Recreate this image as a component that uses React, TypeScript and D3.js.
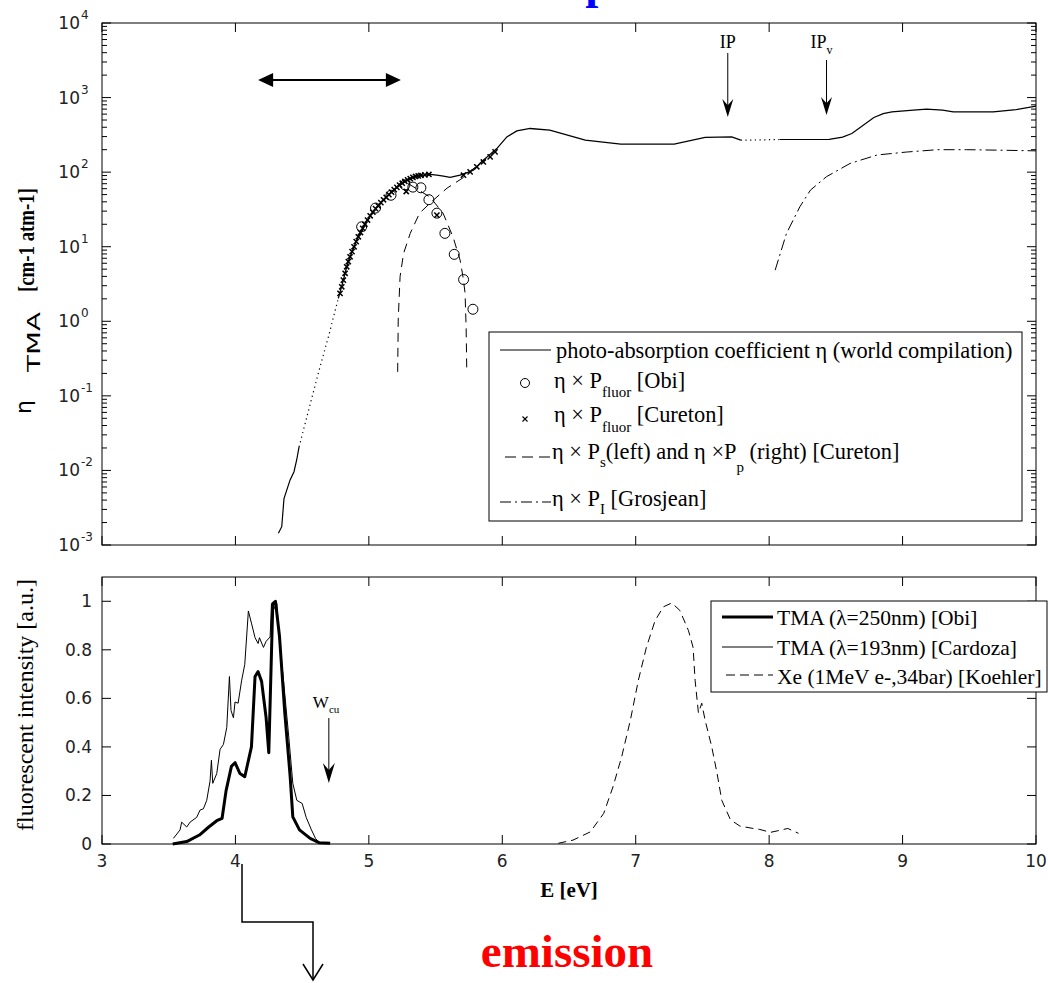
import React from "react";
import * as d3 from "d3";

// ---------- data: top panel (E [eV], cm-1 atm-1) ----------
// photo-absorption coefficient η (world compilation); split into solid and dotted stretches
const absSolidLow: [number, number][] = [
  [4.322, 0.00144], [4.347, 0.00176], [4.364, 0.0042], [4.409, 0.0074],
  [4.439, 0.0096], [4.459, 0.0138], [4.477, 0.0207],
];
const absDottedLow: [number, number][] = [
  [4.477, 0.0207], [4.572, 0.093], [4.634, 0.245], [4.697, 0.62], [4.771, 2.03],
];
const absSolidMid: [number, number][] = [
  [4.771, 2.03], [4.809, 3.56], [4.834, 5.38], [4.859, 7.33], [4.889, 9.98],
  [4.921, 13.6], [4.954, 17.6], [4.989, 22.7], [5.022, 27.9], [5.059, 33.6],
  [5.097, 40], [5.134, 46.7], [5.172, 54.5], [5.209, 62.4], [5.247, 70.5],
  [5.284, 78.1], [5.322, 83.9], [5.359, 88.4], [5.409, 91.2], [5.459, 93.1],
  [5.509, 91.2], [5.559, 88.4], [5.609, 85], [5.684, 91], [5.783, 106],
  [5.858, 145], [5.959, 207], [6.034, 297], [6.109, 358], [6.209, 385],
  [6.356, 366], [6.622, 268], [6.888, 237], [7.288, 237], [7.52, 292],
  [7.72, 297], [7.787, 268],
];
const absDottedHigh: [number, number][] = [
  [7.787, 268], [7.81, 268], [8.08, 274],
];
const absSolidHigh: [number, number][] = [
  [8.08, 274], [8.45, 275], [8.55, 295], [8.62, 330], [8.70, 420],
  [8.785, 540], [8.855, 610], [8.92, 643], [9.08, 680], [9.18, 700],
  [9.30, 680], [9.38, 643], [9.68, 643], [9.85, 690], [10.0, 767],
];

// η × P_fluor [Obi]
const obiFluor: [number, number][] = [
  [4.946, 18.5], [5.05, 33], [5.166, 49], [5.27, 67.6], [5.33, 63],
  [5.39, 61.7], [5.45, 42.7], [5.51, 28.2], [5.57, 15.1], [5.64, 7.9],
  [5.71, 3.63], [5.78, 1.45],
];

// η × P_fluor [Cureton]
const curetonFluor: [number, number][] = [
  [4.784, 2.37], [4.797, 2.9], [4.809, 3.56], [4.822, 4.4], [4.834, 5.38],
  [4.846, 6.3], [4.859, 7.33], [4.874, 8.6], [4.889, 9.98], [4.905, 11.7],
  [4.921, 13.6], [4.937, 15.5], [4.954, 17.6], [4.97, 20], [4.99, 22.8],
  [5.01, 26], [5.03, 29], [5.05, 32.4], [5.07, 35.4], [5.09, 39],
  [5.11, 42.6], [5.13, 46], [5.15, 50], [5.17, 54], [5.19, 58.4],
  [5.21, 62.5], [5.23, 67], [5.25, 71], [5.27, 75], [5.29, 79],
  [5.31, 82], [5.33, 85], [5.35, 87.5], [5.37, 89], [5.39, 90.5],
  [5.42, 92], [5.45, 93], [5.28, 55], [5.51, 26.5],
  [5.709, 91], [5.759, 101], [5.809, 118], [5.858, 137], [5.909, 160],
  [5.946, 187],
];

// η × P_s (left) and η × P_p (right) [Cureton]
const curetonPs: [number, number][] = [
  [5.13, 46], [5.256, 77.6], [5.459, 46.2], [5.556, 28.2], [5.631, 13.5],
  [5.684, 6.6], [5.706, 3.9], [5.721, 2.4], [5.729, 0.83], [5.734, 0.21],
];
const curetonPp: [number, number][] = [
  [5.216, 0.21], [5.22, 1.04], [5.234, 3.98], [5.26, 8.1], [5.31, 15.1],
  [5.38, 28.2], [5.48, 41.7], [5.586, 61], [5.71, 85], [5.83, 132], [5.96, 195],
];

// η × P_I [Grosjean]
const grosjeanPI: [number, number][] = [
  [8.045, 4.85], [8.13, 15.1], [8.23, 34.3], [8.31, 57.5], [8.43, 87],
  [8.607, 131], [8.81, 170], [9.03, 186], [9.26, 200], [9.48, 200],
  [9.73, 197], [10.0, 193],
];

// ---------- data: bottom panel (E [eV], fluorescent intensity [a.u.]) ----------
const tmaObi: [number, number][] = [
  [3.53, 0], [3.635, 0.01], [3.73, 0.037], [3.80, 0.07], [3.86, 0.096],
  [3.90, 0.106], [3.93, 0.22], [3.97, 0.32], [3.997, 0.335], [4.034, 0.29],
  [4.07, 0.277], [4.12, 0.40], [4.147, 0.69], [4.17, 0.71], [4.196, 0.67],
  [4.23, 0.52], [4.25, 0.376], [4.28, 0.99], [4.30, 1.0], [4.33, 0.857],
  [4.37, 0.54], [4.41, 0.28], [4.43, 0.112], [4.48, 0.058], [4.56, 0.023],
  [4.63, 0.005], [4.71, 0.003],
];
const tmaCardoza: [number, number][] = [
  [3.535, 0.023], [3.585, 0.058], [3.597, 0.09], [3.635, 0.07], [3.66, 0.09],
  [3.71, 0.11], [3.735, 0.14], [3.76, 0.145], [3.785, 0.18], [3.81, 0.26],
  [3.82, 0.345], [3.83, 0.25], [3.86, 0.29], [3.885, 0.39], [3.91, 0.41],
  [3.935, 0.48], [3.955, 0.69], [3.967, 0.55], [3.985, 0.52], [3.997, 0.585],
  [4.02, 0.58], [4.047, 0.675], [4.07, 0.74], [4.097, 0.96], [4.12, 0.91],
  [4.147, 0.85], [4.17, 0.826], [4.18, 0.85], [4.21, 0.81], [4.23, 0.835],
  [4.26, 0.853], [4.27, 0.99], [4.28, 0.96], [4.31, 0.99], [4.33, 0.84],
  [4.36, 0.675], [4.40, 0.44], [4.43, 0.25], [4.46, 0.18], [4.50, 0.167],
  [4.53, 0.11], [4.57, 0.058], [4.60, 0.023], [4.63, 0.005],
];
const xeKoehler: [number, number][] = [
  [6.42, 0.003], [6.53, 0.016], [6.66, 0.05], [6.76, 0.126], [6.83, 0.236],
  [6.895, 0.36], [6.96, 0.51], [7.02, 0.675], [7.08, 0.81], [7.145, 0.92],
  [7.207, 0.977], [7.27, 0.993], [7.33, 0.963], [7.395, 0.88], [7.43, 0.81],
  [7.445, 0.675], [7.47, 0.54], [7.495, 0.58], [7.52, 0.51], [7.57, 0.40],
  [7.61, 0.29], [7.645, 0.18], [7.71, 0.1], [7.78, 0.074], [7.88, 0.064],
  [7.93, 0.06], [8.01, 0.048], [8.06, 0.054], [8.14, 0.064], [8.22, 0.044],
];

// ---------- axes ----------
const eDomain: [number, number] = [3, 10];
const eTicks = [3, 4, 5, 6, 7, 8, 9, 10];
const etaDomain: [number, number] = [1e-3, 1e4];
const etaExponents = [-3, -2, -1, 0, 1, 2, 3, 4];
const intensityDomain: [number, number] = [0, 1.1];
const intensityTicks = [0, 0.2, 0.4, 0.6, 0.8, 1];

// annotation energies
const ipEnergy = 7.69;
const ipvEnergy = 8.43;
const wcuEnergy = 4.7;
const rangeArrow: [number, number] = [4.17, 5.24];

const SERIF = "'Liberation Serif', 'Times New Roman', serif";
const SANS = "'DejaVu Sans', Arial, sans-serif";

const L = 102, R = 1036;
const T1 = 23, B1 = 545;
const T2 = 577, B2 = 844;
const TICK = 9, MINOR = 5;

const x = d3.scaleLinear().domain(eDomain).range([L, R]);
const yTop = d3.scaleLog().domain(etaDomain).range([B1, T1]);
const yBot = d3.scaleLinear().domain(intensityDomain).range([B2, T2]);

const lineTop = d3.line<[number, number]>().x((d) => x(d[0])).y((d) => yTop(d[1]));
const lineBot = d3.line<[number, number]>().x((d) => x(d[0])).y((d) => yBot(d[1]));

function barbArrowDown(cx: number, tipY: number, len = 18, half = 5.5) {
  return `M${cx},${tipY} L${cx - half},${tipY - len} L${cx},${tipY - len * 0.65} L${cx + half},${tipY - len} Z`;
}

function Cross({ cx, cy, s = 3, w = 1.1 }: { cx: number; cy: number; s?: number; w?: number }) {
  return (
    <path
      d={`M${cx - s},${cy - s}L${cx + s},${cy + s}M${cx - s},${cy + s}L${cx + s},${cy - s}`}
      stroke="#000"
      strokeWidth={w}
      fill="none"
    />
  );
}

export default function App() {
  const minorTop: number[] = [];
  for (let d = -3; d < 4; d++) for (let m = 2; m <= 9; m++) minorTop.push(m * Math.pow(10, d));

  const dashTop = "9,6";
  const dashDot = "11,4,2,4";
  const dotted = "1.2,3.5";

  return (
    <svg
      width={1048}
      height={983}
      style={{ position: "absolute", left: 0, top: 0, background: "#fff" }}
      xmlns="http://www.w3.org/2000/svg"
    >
      <rect x={0} y={0} width={1048} height={983} fill="#fff" />

      {/* title word, mostly above the canvas */}
      <text x={473} y={-2} fontFamily={SERIF} fontWeight="bold" fontSize={47} fill="#0000ff">
        absorption
      </text>

      {/* ================= top panel ================= */}
      <g>
        {eTicks.map((t) => (
          <g key={"tx" + t} stroke="#000" strokeWidth={1}>
            <line x1={x(t)} x2={x(t)} y1={B1} y2={B1 - TICK} />
            <line x1={x(t)} x2={x(t)} y1={T1} y2={T1 + TICK} />
          </g>
        ))}
        {etaExponents.map((e) => {
          const yy = yTop(Math.pow(10, e));
          return (
            <g key={"ty" + e} stroke="#000" strokeWidth={1}>
              <line x1={L} x2={L + TICK} y1={yy} y2={yy} />
              <line x1={R} x2={R - TICK} y1={yy} y2={yy} />
            </g>
          );
        })}
        {minorTop.map((v, i) => {
          const yy = yTop(v);
          return (
            <g key={"tm" + i} stroke="#000" strokeWidth={1}>
              <line x1={L} x2={L + MINOR} y1={yy} y2={yy} />
              <line x1={R} x2={R - MINOR} y1={yy} y2={yy} />
            </g>
          );
        })}
        {etaExponents.map((e) => {
          const yy = yTop(Math.pow(10, e));
          return (
            <g key={"ly" + e} fontFamily={SANS} fill="#222">
              <text x={80} y={yy + 6} fontSize={17} textAnchor="end">10</text>
              <text x={81} y={yy - 4} fontSize={12}>{e}</text>
            </g>
          );
        })}

        {/* curves */}
        <path d={lineTop(absSolidLow)!} fill="none" stroke="#000" strokeWidth={1.2} />
        <path d={lineTop(absDottedLow)!} fill="none" stroke="#000" strokeWidth={1.2} strokeDasharray={dotted} />
        <path d={lineTop(absSolidMid)!} fill="none" stroke="#000" strokeWidth={1.3} />
        <path d={lineTop(absDottedHigh)!} fill="none" stroke="#000" strokeWidth={1.2} strokeDasharray={dotted} />
        <path d={lineTop(absSolidHigh)!} fill="none" stroke="#000" strokeWidth={1.2} />

        <path d={lineTop(curetonPs)!} fill="none" stroke="#000" strokeWidth={1} strokeDasharray={dashTop} />
        <path d={lineTop(curetonPp)!} fill="none" stroke="#000" strokeWidth={1} strokeDasharray={dashTop} />
        <path d={lineTop(grosjeanPI)!} fill="none" stroke="#000" strokeWidth={1} strokeDasharray={dashDot} />

        {curetonFluor.map((d, i) => (
          <Cross key={"cx" + i} cx={x(d[0])} cy={yTop(d[1])} s={2.6} w={1.5} />
        ))}
        {obiFluor.map((d, i) => (
          <circle key={"ob" + i} cx={x(d[0])} cy={yTop(d[1])} r={5} fill="none" stroke="#000" strokeWidth={1} />
        ))}

        {/* range arrow */}
        <g fill="#000" stroke="#000">
          <line x1={x(rangeArrow[0]) + 10} x2={x(rangeArrow[1]) - 10} y1={80} y2={80} strokeWidth={2} />
          <path d={`M${x(rangeArrow[0])},80 L${x(rangeArrow[0]) + 15},73 L${x(rangeArrow[0]) + 15},87 Z`} stroke="none" />
          <path d={`M${x(rangeArrow[1])},80 L${x(rangeArrow[1]) - 15},73 L${x(rangeArrow[1]) - 15},87 Z`} stroke="none" />
        </g>

        {/* IP, IPv markers */}
        <g>
          <text x={x(ipEnergy)} y={48} fontFamily={SERIF} fontSize={18} textAnchor="middle">IP</text>
          <line x1={x(ipEnergy)} x2={x(ipEnergy)} y1={53} y2={108} stroke="#000" strokeWidth={1} />
          <path d={barbArrowDown(x(ipEnergy), 117)} fill="#000" />
          <text x={x(ipvEnergy) - 16} y={48} fontFamily={SERIF} fontSize={18}>
            IP<tspan fontSize={12} dy={6}>v</tspan>
          </text>
          <line x1={x(ipvEnergy)} x2={x(ipvEnergy)} y1={60} y2={106} stroke="#000" strokeWidth={1} />
          <path d={barbArrowDown(x(ipvEnergy), 115)} fill="#000" />
        </g>

        <rect x={L} y={T1} width={R - L} height={B1 - T1} fill="none" stroke="#000" strokeWidth={1} />

        {/* legend */}
        <g fontFamily={SERIF} fontSize={22.4} fill="#000">
          <rect x={489} y={332} width={533} height={189} fill="#fff" stroke="#000" strokeWidth={1} />
          <line x1={500} x2={551} y1={350} y2={350} stroke="#000" strokeWidth={1} />
          <text x={556} y={358}>photo-absorption coefficient η  (world compilation)</text>

          <circle cx={525} cy={383} r={4.5} fill="none" stroke="#000" strokeWidth={1} />
          <text x={554} y={388}>
            η × P<tspan fontSize={15} dy={9}>fluor</tspan><tspan dy={-9}> [Obi]</tspan>
          </text>

          <Cross cx={525} cy={419} s={2.5} />
          <text x={554} y={422}>
            η × P<tspan fontSize={15} dy={10}>fluor</tspan><tspan dy={-10}> [Cureton]</tspan>
          </text>

          <line x1={505} x2={551} y1={457} y2={457} stroke="#000" strokeWidth={1} strokeDasharray="11,6" />
          <text x={552} y={459}>
            η × P<tspan fontSize={15} dy={8}>s</tspan><tspan dy={-8}>(left) and η ×P</tspan>
            <tspan fontSize={15} dy={13}>p</tspan><tspan dy={-13}> (right) [Cureton]</tspan>
          </text>

          <line x1={500} x2={551} y1={502} y2={502} stroke="#000" strokeWidth={1} strokeDasharray={dashDot} />
          <text x={552} y={506}>
            η × P<tspan fontSize={15} dy={8}>I</tspan><tspan dy={-8}> [Grosjean]</tspan>
          </text>
        </g>

        {/* y label, read bottom to top */}
        <g transform="rotate(-90)">
          <text x={-414} y={31} fontFamily={SANS} fontSize={22}>η</text>
          <text x={-372} y={40} fontFamily={SANS} fontSize={18} textLength={60} lengthAdjust="spacingAndGlyphs">TMA</text>
          <text
            x={-292}
            y={33.5}
            fontFamily={SERIF}
            fontWeight="bold"
            fontSize={23}
            textLength={104}
            lengthAdjust="spacingAndGlyphs"
          >
            [cm-1 atm-1]
          </text>
        </g>
      </g>

      {/* ================= bottom panel ================= */}
      <g>
        {eTicks.map((t) => (
          <g key={"bx" + t}>
            <line x1={x(t)} x2={x(t)} y1={B2} y2={B2 - TICK} stroke="#000" />
            <line x1={x(t)} x2={x(t)} y1={T2} y2={T2 + TICK} stroke="#000" />
            <text x={x(t)} y={867} fontFamily={SANS} fontSize={17} fill="#222" textAnchor="middle">{t}</text>
          </g>
        ))}
        {intensityTicks.map((t) => (
          <g key={"by" + t}>
            <line x1={L} x2={L + TICK} y1={yBot(t)} y2={yBot(t)} stroke="#000" />
            <line x1={R} x2={R - TICK} y1={yBot(t)} y2={yBot(t)} stroke="#000" />
            <text x={92} y={yBot(t) + 6} fontFamily={SANS} fontSize={17} fill="#222" textAnchor="end">{t}</text>
          </g>
        ))}

        <path d={lineBot(tmaCardoza)!} fill="none" stroke="#000" strokeWidth={1} />
        <path d={lineBot(tmaObi)!} fill="none" stroke="#000" strokeWidth={3} strokeLinejoin="round" />
        <path d={lineBot(xeKoehler)!} fill="none" stroke="#000" strokeWidth={1} strokeDasharray="8,5" />

        {/* W_cu marker */}
        <text x={x(wcuEnergy) - 16} y={708} fontFamily={SERIF} fontSize={17}>
          W<tspan fontSize={11} dy={5}>cu</tspan>
        </text>
        <line x1={x(wcuEnergy)} x2={x(wcuEnergy)} y1={718} y2={774} stroke="#000" strokeWidth={1} />
        <path d={barbArrowDown(x(wcuEnergy), 783, 20, 6)} fill="#000" />

        <rect x={L} y={T2} width={R - L} height={B2 - T2} fill="none" stroke="#000" strokeWidth={1} />

        {/* legend */}
        <g fontFamily={SERIF} fontSize={21.5}>
          <rect x={711} y={601} width={336} height={91} fill="#fff" stroke="#000" strokeWidth={1} />
          <line x1={722} x2={773} y1={617} y2={617} stroke="#000" strokeWidth={3} />
          <text x={777} y={625}>TMA (λ=250nm) [Obi]</text>
          <line x1={722} x2={773} y1={647} y2={647} stroke="#000" strokeWidth={1} />
          <text x={777} y={655}>TMA (λ=193nm) [Cardoza]</text>
          <line x1={726} x2={773} y1={675} y2={675} stroke="#000" strokeWidth={1} strokeDasharray="9,5" />
          <text x={777} y={684}>Xe (1MeV e-,34bar) [Koehler]</text>
        </g>

        <text x={(L + R) / 2} y={897} fontFamily={SERIF} fontWeight="bold" fontSize={21} textAnchor="middle">
          E [eV]
        </text>
        <text transform="translate(33,705) rotate(-90)" fontFamily={SERIF} fontSize={24} textAnchor="middle">
          fluorescent intensity [a.u.]
        </text>
      </g>

      {/* emission pointer */}
      <polyline points="242,864 242,922 313,922 313,980" fill="none" stroke="#000" strokeWidth={1.5} />
      <polyline points="303,964 313,980 323,964" fill="none" stroke="#000" strokeWidth={1.5} />
      <text x={567} y={967} fontFamily={SERIF} fontWeight="bold" fontSize={47} fill="#ff0000" textAnchor="middle">
        emission
      </text>
    </svg>
  );
}
